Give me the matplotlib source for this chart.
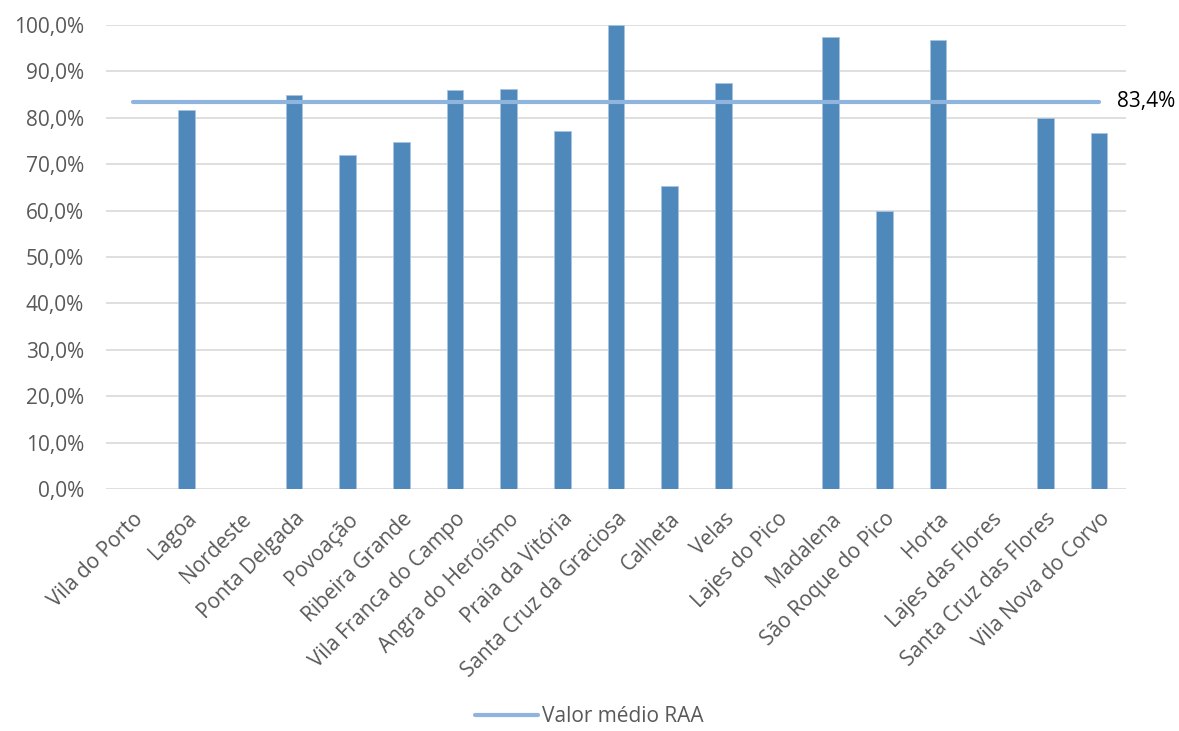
import numpy as np
import matplotlib
matplotlib.use("Agg")
import matplotlib.pyplot as plt
from matplotlib.ticker import FuncFormatter

categories = ["Vila do Porto", "Lagoa", "Nordeste", "Ponta Delgada", "Povoação",
              "Ribeira Grande", "Vila Franca do Campo", "Angra do Heroísmo",
              "Praia da Vitória", "Santa Cruz da Graciosa", "Calheta", "Velas",
              "Lajes do Pico", "Madalena", "São Roque do Pico", "Horta",
              "Lajes das Flores", "Santa Cruz das Flores", "Vila Nova do Corvo"]
values = [np.nan, 81.6, np.nan, 84.9, 72.0, 74.8, 85.9, 86.1, 77.2, 100.0,
          65.2, 87.5, np.nan, 97.4, 59.9, 96.7, np.nan, 80.0, 76.8]
average = 83.4
avg_label = "83,4%"
legend_label = "Valor médio RAA"

plt.rcParams['font.family'] = ['Open Sans', 'DejaVu Sans']
grey = '#595959'
fs = 15

fig = plt.figure(figsize=(11.79, 7.31), dpi=100)
ax = fig.add_axes([0.09, 0.331, 0.865, 0.635])

x = np.arange(len(categories))
ax.bar(x, values, width=0.31, color='#4F88BB', edgecolor='#A9C4E0', linewidth=0.6, zorder=3)
ax.plot([x[0], x[-1]], [average, average], color='#8FB4DE', linewidth=3,
        solid_capstyle='round', zorder=4, label=legend_label)
ax.text(x[-1] + 0.33, average, avg_label, ha='left', va='center', fontsize=fs,
        color='black')

ax.set_xlim(-0.5, len(categories) - 0.5)
ax.set_ylim(0, 100)
ax.set_yticks(np.arange(0, 101, 10))
ax.yaxis.set_major_formatter(FuncFormatter(lambda v, p: f"{v:.1f}%".replace('.', ',')))
ax.grid(axis='y', color='#D9D9D9', linewidth=1.2, zorder=0)
ax.set_axisbelow(True)
for s in ax.spines.values():
    s.set_visible(False)
ax.tick_params(axis='both', length=0, labelsize=fs, colors=grey)
ax.tick_params(axis='y', pad=16)
ax.set_xticks(x)
ax.set_xticklabels(categories, rotation=45, ha='right', rotation_mode='anchor')
ax.tick_params(axis='x', pad=14)

leg = fig.legend(loc='lower center', bbox_to_anchor=(0.5, -0.02), frameon=False,
                 fontsize=fs, handlelength=3.0, handletextpad=0.2)
for t in leg.get_texts():
    t.set_color(grey)

fig.savefig("out.png", dpi=100)
